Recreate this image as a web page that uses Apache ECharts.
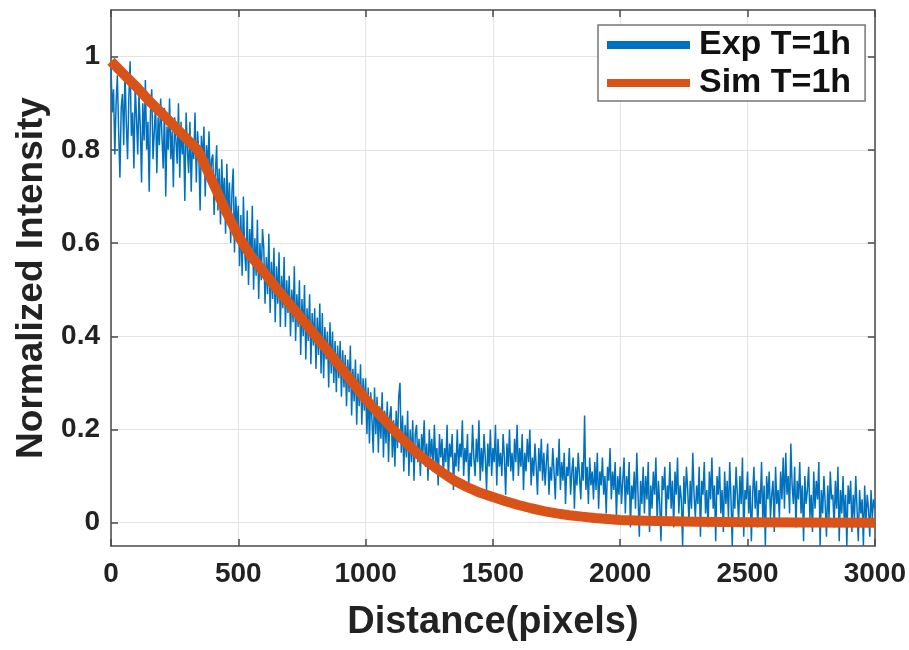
<!DOCTYPE html>
<html>
<head>
<meta charset="utf-8">
<script src="https://cdn.jsdelivr.net/npm/echarts@6/dist/echarts.min.js"></script>
<style>
html,body{margin:0;padding:0;background:#fff;}
#chart{width:909px;height:650px;}
</style>
</head>
<body>
<div id="chart"></div>
<script>
// ---- Data ----
const seriesNames = ['Exp T=1h', 'Sim T=1h'];
const xTicks = [0, 500, 1000, 1500, 2000, 2500, 3000];
const yTicks = [0, 0.2, 0.4, 0.6, 0.8, 1];

// Experimental profile, sampled every 5 pixels from x = 0 (one line = 100 pixels)
const expStart = 0;
const expStep = 5;
const expValues = [
  0.98,0.88,0.93,0.79,0.90,0.96,0.84,0.74,0.89,0.92,0.81,0.97,0.86,0.78,0.91,0.99,0.83,0.88,0.76,0.94,
  0.87,0.79,0.92,0.85,0.73,0.90,0.82,0.95,0.80,0.86,0.71,0.88,0.93,0.78,0.84,0.90,0.75,0.87,0.81,0.91,
  0.83,0.76,0.89,0.70,0.85,0.80,0.91,0.78,0.84,0.72,0.87,0.82,0.77,0.90,0.74,0.86,0.79,0.83,0.69,0.88,
  0.80,0.75,0.86,0.71,0.82,0.78,0.88,0.73,0.84,0.79,0.67,0.83,0.77,0.85,0.70,0.81,0.76,0.84,0.72,0.78,
  0.79,0.66,0.75,0.81,0.67,0.76,0.64,0.78,0.68,0.74,0.62,0.77,0.65,0.73,0.60,0.71,0.76,0.58,0.70,0.63,
  0.68,0.55,0.66,0.53,0.70,0.58,0.54,0.67,0.51,0.63,0.56,0.68,0.50,0.61,0.53,0.65,0.48,0.60,0.52,0.63,
  0.59,0.47,0.57,0.49,0.62,0.45,0.56,0.48,0.59,0.43,0.55,0.47,0.58,0.42,0.53,0.46,0.57,0.42,0.52,0.45,
  0.53,0.40,0.50,0.43,0.55,0.39,0.49,0.42,0.52,0.36,0.48,0.40,0.51,0.35,0.46,0.39,0.49,0.34,0.45,0.38,
  0.46,0.33,0.44,0.36,0.47,0.32,0.45,0.31,0.42,0.35,0.41,0.29,0.43,0.32,0.41,0.30,0.39,0.28,0.38,0.31,
  0.39,0.27,0.37,0.29,0.36,0.25,0.35,0.28,0.38,0.23,0.33,0.26,0.35,0.21,0.32,0.25,0.34,0.21,0.31,0.24,
  0.31,0.19,0.29,0.17,0.28,0.22,0.15,0.29,0.19,0.27,0.15,0.25,0.18,0.28,0.14,0.24,0.17,0.26,0.13,0.23,
  0.25,0.14,0.22,0.12,0.24,0.16,0.27,0.30,0.15,0.23,0.11,0.21,0.14,0.24,0.10,0.20,0.13,0.22,0.09,0.19,
  0.21,0.13,0.18,0.10,0.19,0.15,0.22,0.12,0.17,0.09,0.20,0.14,0.18,0.11,0.21,0.13,0.16,0.08,0.19,0.14,
  0.18,0.10,0.16,0.13,0.21,0.09,0.17,0.14,0.19,0.07,0.15,0.12,0.20,0.11,0.17,0.14,0.22,0.10,0.16,0.13,
  0.19,0.08,0.15,0.12,0.21,0.14,0.10,0.18,0.13,0.22,0.09,0.16,0.11,0.19,0.14,0.07,0.17,0.12,0.20,0.10,
  0.16,0.13,0.21,0.08,0.18,0.12,0.15,0.10,0.19,0.14,0.06,0.17,0.12,0.20,0.11,0.15,0.09,0.18,0.13,0.21,
  0.10,0.16,0.12,0.19,0.07,0.15,0.11,0.18,0.13,0.20,0.08,0.14,0.10,0.17,0.12,0.06,0.16,0.11,0.18,0.09,
  0.15,0.08,0.13,0.17,0.06,0.12,0.09,0.16,0.11,0.05,0.14,0.10,0.18,0.07,0.13,0.09,0.15,0.04,0.12,0.10,
  0.16,0.06,0.11,0.14,0.03,0.12,0.08,0.15,0.10,0.05,0.13,0.09,0.23,0.07,0.12,0.04,0.14,0.08,0.11,0.05,
  0.13,0.07,0.15,0.03,0.11,0.08,0.14,0.06,0.10,0.02,0.12,0.09,0.16,0.05,0.11,0.07,0.13,0.01,0.10,0.06,
  0.12,0.04,0.09,0.14,0.02,0.10,0.06,0.13,-0.01,0.08,0.05,0.11,0.03,0.15,0.06,-0.03,0.09,0.04,0.12,0.02,
  0.10,0.05,0.13,-0.02,0.08,0.03,0.11,0.06,0.14,0.00,0.09,0.04,-0.04,0.10,0.07,0.12,0.01,0.08,0.05,0.13,
  0.03,0.09,-0.01,0.11,0.06,0.14,0.02,0.08,0.05,-0.05,0.10,0.04,0.12,0.07,0.00,0.09,0.03,0.15,0.06,0.01,
  0.08,0.04,0.12,-0.03,0.09,0.06,0.13,0.02,0.07,-0.01,0.11,0.05,0.14,0.03,0.08,-0.04,0.10,0.06,0.12,0.02,
  0.07,-0.02,0.11,0.04,0.09,0.01,0.13,0.05,-0.05,0.08,0.03,0.12,0.06,0.00,0.10,0.04,0.14,-0.03,0.07,0.05,
  0.11,0.02,0.08,-0.04,0.06,0.12,0.03,0.09,-0.01,0.07,0.04,0.13,0.00,0.08,-0.05,0.10,0.05,0.11,0.01,0.06,
  0.09,-0.02,0.12,0.04,0.07,0.01,0.11,0.05,0.14,0.03,0.15,0.06,0.10,0.02,0.17,0.08,0.04,0.12,-0.01,0.09,
  0.05,0.13,0.02,0.08,-0.04,0.10,0.04,0.07,0.12,0.01,0.06,-0.02,0.11,0.03,0.09,0.05,0.13,-0.05,0.07,0.02,
  0.10,0.04,-0.03,0.08,0.01,0.11,0.05,0.06,-0.01,0.09,0.03,0.12,-0.04,0.07,0.02,0.10,0.00,0.06,-0.05,0.08,
  0.04,0.09,-0.02,0.06,0.01,0.10,0.03,-0.04,0.07,0.02,0.05,-0.05,0.08,0.00,0.06,0.03,-0.03,0.07,0.01,0.05,
  0.03
];

// Simulated profile
const simX = [0, 50, 100, 150, 200, 250, 300, 340, 350, 400, 450, 500, 550, 600, 650, 700, 750, 800, 850, 900, 950,
  1000, 1050, 1100, 1150, 1200, 1250, 1300, 1350, 1400, 1450, 1500, 1550, 1600, 1650, 1700, 1750, 1800, 1850,
  1900, 1950, 2000, 2100, 2200, 2300, 2500, 2700, 3000];
const simY = [0.99, 0.962, 0.935, 0.905, 0.878, 0.85, 0.822, 0.80, 0.79, 0.73, 0.67, 0.615, 0.572, 0.538, 0.503, 0.47,
  0.437, 0.403, 0.37, 0.335, 0.30, 0.265, 0.235, 0.205, 0.177, 0.15, 0.128, 0.108, 0.09, 0.076, 0.064, 0.055,
  0.046, 0.038, 0.031, 0.025, 0.02, 0.016, 0.013, 0.010, 0.008, 0.006, 0.004, 0.003, 0.002, 0.001, 0.0005, 0.0];

const expData = expValues.map((v, i) => [expStart + i * expStep, v]);
const simData = simX.map((x, i) => [x, simY[i]]);

const axisColor = '#4a4a4a';
const gridColor = '#e3e3e3';
const font = "'Liberation Sans', Arial, sans-serif";

const chart = echarts.init(document.getElementById('chart'), null, {renderer: 'canvas'});
const fmtY = v => String(+(+v).toFixed(1));
const fmtX = v => String(Math.round(v));

chart.setOption({
  animation: false,
  backgroundColor: '#fff',
  grid: {left: 111, right: 32, top: 10, bottom: 104, containLabel: false},
  legend: {
    data: seriesNames,
    orient: 'vertical',
    left: 598,
    top: 25,
    padding: [3, 14, 1, 9],
    itemGap: 4,
    itemWidth: 83,
    itemHeight: 8,
    icon: 'rect',
    backgroundColor: '#fff',
    borderColor: '#777',
    borderWidth: 1.5,
    borderRadius: 0,
    textStyle: {fontFamily: font, fontWeight: 'bold', fontSize: 34, color: '#111', padding: [0, 0, 0, 4], lineHeight: 33}
  },
  xAxis: [{
    type: 'value', min: 0, max: 3000, interval: 500, position: 'bottom',
    name: 'Distance(pixels)', nameLocation: 'middle', nameGap: 58,
    nameTextStyle: {fontFamily: font, fontWeight: 'bold', fontSize: 38, color: '#222'},
    axisLine: {show: true, onZero: false, lineStyle: {color: axisColor, width: 1.5}},
    axisTick: {show: true, inside: true, length: 7, lineStyle: {color: axisColor, width: 1.5}},
    axisLabel: {fontFamily: font, fontWeight: 'bold', fontSize: 28, color: '#222', margin: 14,
      customValues: xTicks, formatter: fmtX},
    splitLine: {show: true, lineStyle: {color: gridColor, width: 1}}
  }, {
    type: 'value', min: 0, max: 3000, interval: 500, position: 'top',
    axisLine: {show: true, onZero: false, lineStyle: {color: axisColor, width: 1.5}},
    axisTick: {show: true, inside: true, length: 7, lineStyle: {color: axisColor, width: 1.5}},
    axisLabel: {show: false},
    splitLine: {show: false}
  }],
  yAxis: [{
    type: 'value', min: -0.05, max: 1.1, position: 'left',
    name: 'Normalized Intensity', nameLocation: 'middle', nameGap: 52,
    nameTextStyle: {fontFamily: font, fontWeight: 'bold', fontSize: 37, color: '#222'},
    axisLine: {show: true, onZero: false, lineStyle: {color: axisColor, width: 1.5}},
    axisTick: {show: true, inside: true, length: 7, lineStyle: {color: axisColor, width: 1.5}, customValues: yTicks},
    axisLabel: {fontFamily: font, fontWeight: 'bold', fontSize: 28, color: '#222', margin: 11,
      customValues: yTicks, formatter: fmtY},
    splitLine: {show: true, lineStyle: {color: gridColor, width: 1}}
  }, {
    type: 'value', min: -0.05, max: 1.1, position: 'right',
    axisLine: {show: true, onZero: false, lineStyle: {color: axisColor, width: 1.5}},
    axisTick: {show: true, inside: true, length: 7, lineStyle: {color: axisColor, width: 1.5}, customValues: yTicks},
    axisLabel: {show: false, customValues: yTicks},
    splitLine: {show: false}
  }],
  series: [{
    name: seriesNames[0], type: 'line', data: expData, xAxisIndex: 0, yAxisIndex: 0,
    showSymbol: false, symbol: 'none', clip: true,
    lineStyle: {color: '#0072BD', width: 1.5}, itemStyle: {color: '#0072BD'}, z: 2
  }, {
    name: seriesNames[1], type: 'line', data: simData, xAxisIndex: 0, yAxisIndex: 0,
    showSymbol: false, symbol: 'none', smooth: false, clip: true,
    lineStyle: {color: '#D95319', width: 10, join: 'round'}, itemStyle: {color: '#D95319'}, z: 3
  }]
});
</script>
</body>
</html>
